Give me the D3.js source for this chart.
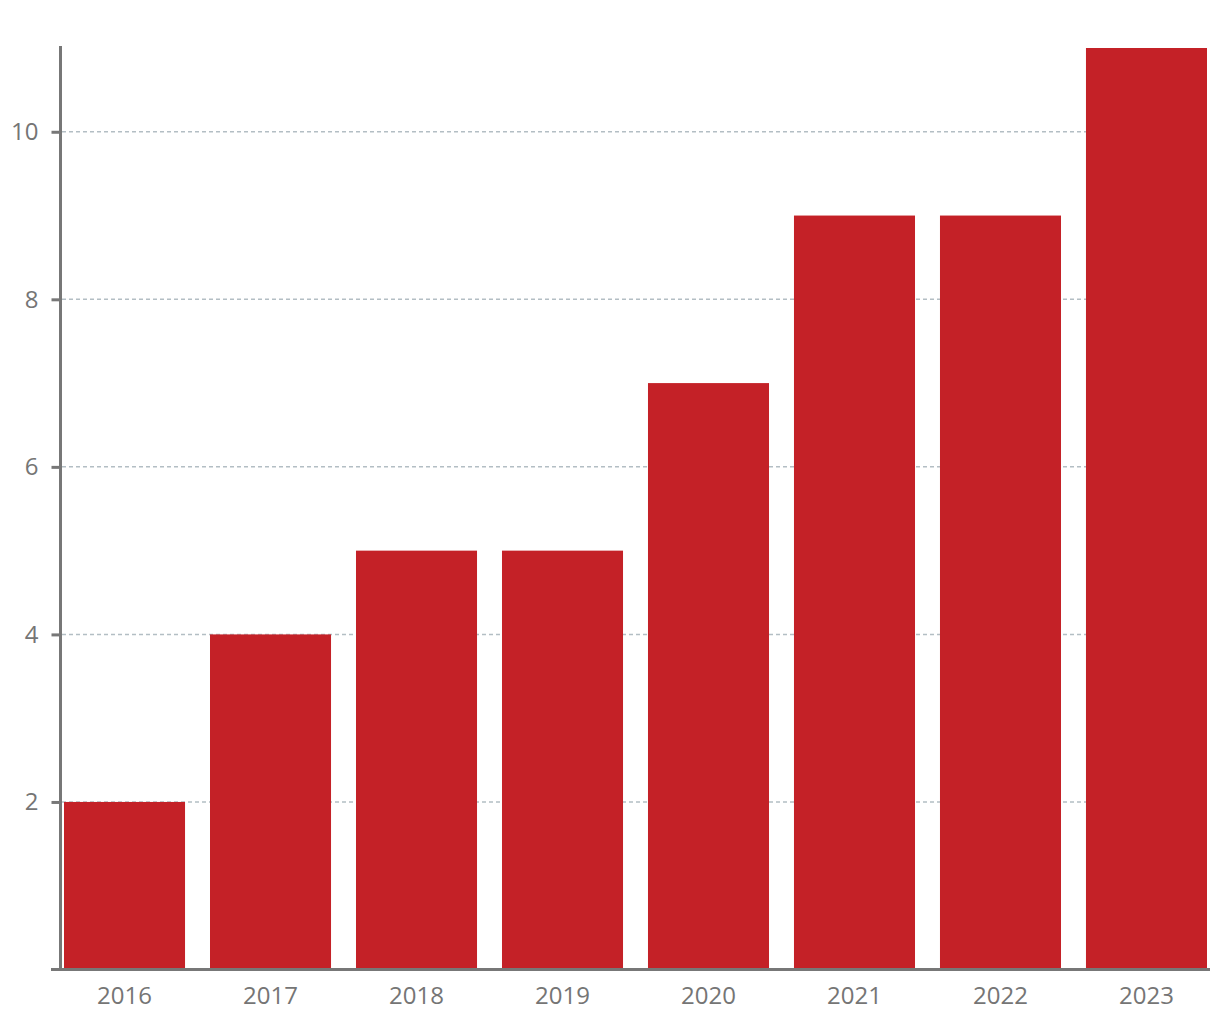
<!DOCTYPE html>
<html>
<head>
<meta charset="utf-8">
<script src="https://cdn.jsdelivr.net/npm/d3@7"></script>
<style>
  body { margin: 0; background: #fff; }
  svg { display: block; }
  .axis text { font-family: "Open Sans", sans-serif; font-size: 24px; fill: #757575; }
</style>
</head>
<body>
<svg id="chart" width="1220" height="1020"></svg>
<script>
// data
const years = ["2016", "2017", "2018", "2019", "2020", "2021", "2022", "2023"];
const counts = [2, 4, 5, 5, 7, 9, 9, 11];
const yTicks = [2, 4, 6, 8, 10];

const svg = d3.select("#chart");

// scales
const xScale = d3.scaleBand()
  .domain(years)
  .range([64, 1207])
  .paddingInner(0.171)
  .paddingOuter(0);

const yScale = d3.scaleLinear()
  .domain([0, 11])
  .range([969.5, 48]);

// dashed gridlines
svg.append("g")
  .selectAll("line")
  .data(yTicks)
  .enter()
  .append("line")
  .attr("x1", 62)
  .attr("x2", 1209)
  .attr("y1", d => yScale(d))
  .attr("y2", d => yScale(d))
  .attr("stroke", "#b3bec4")
  .attr("stroke-width", 1.5)
  .attr("stroke-dasharray", "4,3");

// bars
svg.append("g")
  .selectAll("rect")
  .data(counts)
  .enter()
  .append("rect")
  .attr("x", (d, i) => xScale(years[i]))
  .attr("y", d => yScale(d))
  .attr("width", xScale.bandwidth())
  .attr("height", d => yScale(0) - yScale(d))
  .attr("fill", "#c42127");

// y axis
const yAxis = svg.append("g")
  .attr("class", "axis")
  .attr("transform", "translate(60.5, 0)")
  .call(d3.axisLeft(yScale).tickValues(yTicks).tickSize(9).tickPadding(13));
yAxis.select(".domain").remove();
yAxis.selectAll(".tick line").attr("stroke", "#777").attr("stroke-width", 3);
yAxis.append("line")
  .attr("x1", 0).attr("x2", 0)
  .attr("y1", 46).attr("y2", 971)
  .attr("stroke", "#777")
  .attr("stroke-width", 3);

// x axis
const xAxis = svg.append("g")
  .attr("class", "axis")
  .attr("transform", "translate(0, 969.5)")
  .call(d3.axisBottom(xScale).tickSize(0).tickPadding(17));
xAxis.select(".domain").remove();
xAxis.append("line")
  .attr("x1", 51).attr("x2", 1210)
  .attr("y1", 0).attr("y2", 0)
  .attr("stroke", "#777")
  .attr("stroke-width", 3);
</script>
</body>
</html>
